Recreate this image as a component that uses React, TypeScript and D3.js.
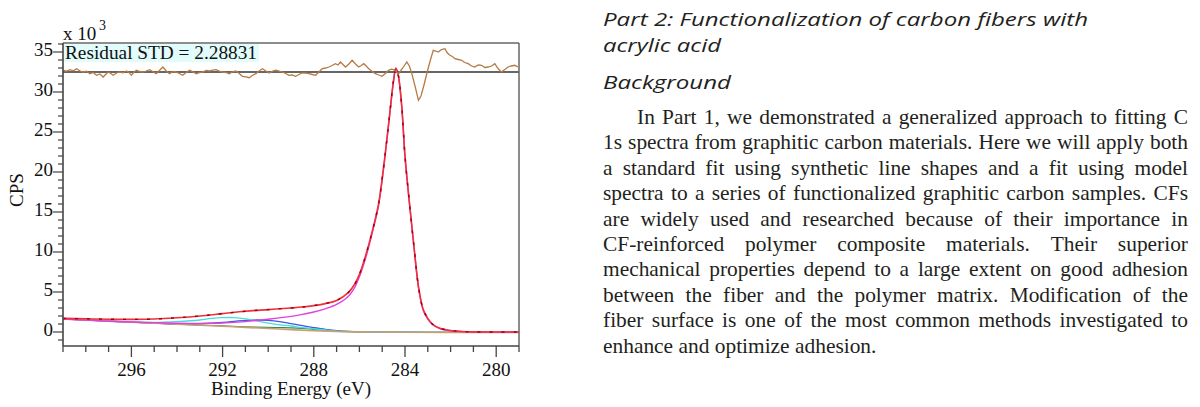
import React, { useMemo } from 'react';
import * as d3 from 'd3';

// ---------- data (binding energy in eV, intensity in CPS x 10^3) ----------
const xMajorTicks = [296, 292, 288, 284, 280];
const yMajorTicks = [0, 5, 10, 15, 20, 25, 30, 35];

const envelope: [number, number][] = [
  [299, 1.7], [298, 1.65], [297, 1.6], [296, 1.58], [295, 1.62], [294, 1.78], [293, 2.0], [292, 2.3],
  [291, 2.6], [290, 2.8], [289, 3.0], [288.5, 3.12], [288, 3.3], [287.5, 3.55], [287, 3.95], [286.5, 4.9],
  [286.2, 6.0], [286, 7.2], [285.7, 9.8], [285.4, 13.0], [285.16, 16.0], [284.9, 21.5], [284.7, 26.5],
  [284.5, 31.5], [284.4, 33.0], [284.3, 32.2], [284.15, 28.5], [284.0, 22.0], [283.8, 16.0], [283.6, 10.5],
  [283.4, 5.5], [283.2, 2.8], [283.0, 1.7], [282.8, 1.0], [282.5, 0.5], [282, 0.18], [281.5, 0.07],
  [281, 0.02], [280, 0], [279, 0],
];

const mainPeak: [number, number][] = [
  [299, 1.62], [298, 1.48], [297, 1.35], [296, 1.25], [295, 1.17], [294, 1.1], [293, 1.07], [292, 1.12],
  [291, 1.3], [290, 1.6], [289, 1.95], [288.5, 2.2], [288, 2.5], [287.5, 2.9], [287, 3.45], [286.5, 4.4],
  [286.2, 5.6], [286, 6.9], [285.7, 9.5], [285.4, 12.8], [285.16, 15.8], [284.9, 21.4], [284.7, 26.4],
  [284.5, 31.4], [284.4, 32.9], [284.3, 32.1], [284.15, 28.4], [284.0, 21.9], [283.8, 15.9], [283.6, 10.4],
  [283.4, 5.4], [283.2, 2.7], [283.0, 1.6], [282.8, 0.95], [282.5, 0.47], [282, 0.15], [281.5, 0.05],
  [281, 0.0], [280, -0.02], [279, -0.03],
];

const cyanPeak: [number, number][] = [
  [299, 1.65], [298, 1.5], [297, 1.37], [296, 1.27], [295, 1.2], [294, 1.3], [293, 1.5], [292.5, 1.7],
  [292, 1.8], [291.5, 1.8], [291, 1.65], [290.5, 1.4], [290, 1.1], [289.5, 0.9], [289, 0.75], [288.5, 0.55],
  [288, 0.4], [287.5, 0.25], [287, 0.12], [286, 0.03], [285, 0], [282, -0.05], [279, -0.05],
];

const bluePeak: [number, number][] = [
  [299, 1.65], [298, 1.5], [297, 1.36], [296, 1.24], [295, 1.12], [294, 1.0], [293, 1.05], [292, 1.2],
  [291, 1.45], [290.5, 1.5], [290, 1.45], [289.5, 1.3], [289, 1.05], [288.5, 0.8], [288, 0.55],
  [287.5, 0.33], [287, 0.18], [286.5, 0.07], [286, 0.02], [285, 0], [282, -0.05], [279, -0.05],
];

const greenPeak: [number, number][] = [
  [299, 1.65], [298, 1.5], [297, 1.36], [296, 1.24], [295, 1.1], [294, 0.97], [293, 0.86], [292, 0.76],
  [291, 0.65], [290, 0.58], [289.5, 0.55], [289, 0.52], [288.5, 0.45], [288, 0.32], [287.5, 0.2],
  [287, 0.1], [286, 0.02], [285, 0], [282, -0.05], [279, -0.05],
];

const background: [number, number][] = [
  [299, 1.65], [298, 1.5], [297, 1.36], [296, 1.23], [295, 1.1], [294, 0.97], [293, 0.85], [292, 0.72],
  [291, 0.58], [290, 0.45], [289, 0.3], [288, 0.16], [287, 0.07], [286, 0.02], [285, 0], [284, -0.03],
  [282, -0.05], [279, -0.05],
];

const residual: [number, number][] = [
  [298.99, 1.7], [298.84, 0.8], [298.69, 2.3], [298.55, 1.2], [298.4, 3.3], [298.25, 1.0], [298.11, 0],
  [297.96, 0.8], [297.82, -1.7], [297.68, -0.5], [297.53, -3.3], [297.38, -2.0], [297.24, -5], [297.13, -2.5],
  [297.02, 0], [296.9, -1.5], [296.8, -3.3], [296.65, -1.0], [296.51, 0], [296.36, -0.8], [296.22, 1],
  [296.1, -0.5], [296.0, -3.3], [295.9, -0.5], [295.78, 1.7], [295.63, 0.5], [295.49, 0], [295.35, 1.0],
  [295.2, 2.3], [295.05, 0.2], [294.91, -1.7], [294.77, 1.5], [294.62, 5], [294.47, 1.0], [294.33, -1.7],
  [294.18, 0.5], [294.04, 0], [293.9, -1.5], [293.75, -3.3], [293.6, -0.5], [293.45, 1.7], [293.3, 0.2],
  [293.16, -1.7], [293.02, -0.6], [292.87, 0], [292.72, 1.5], [292.58, 1], [292.43, 1.8], [292.29, 2.3],
  [292.15, 0.8], [292.0, 0], [291.85, -0.5], [291.71, -1.7], [291.56, 0.2], [291.42, 1], [291.27, -1.5],
  [291.13, -4.3], [290.98, -4.8], [290.83, -5.7], [290.7, -3.5], [290.54, -1.7], [290.4, 1.0], [290.25, 3.3],
  [290.1, 1.0], [289.96, -1], [289.8, 0.8], [289.67, 1.7], [289.52, 0.8], [289.38, 0], [289.23, -1.5],
  [289.09, -3.3], [288.95, -3.0], [288.8, -4.3], [288.65, -2.5], [288.51, -1], [288.36, -1.2], [288.21, -1.7],
  [288.07, -2.5], [287.92, -3.3], [287.78, 0], [287.63, 3.3], [287.48, 4.0], [287.34, 5], [287.2, 6.5],
  [287.05, 8.3], [286.94, 7.0], [286.83, 10], [286.72, 7.5], [286.61, 5], [286.46, 8.0], [286.32, 11.7],
  [286.17, 8.0], [286.03, 5], [285.92, 6.5], [285.81, 8.3], [285.7, 6.0], [285.59, 3.3], [285.45, 0.8],
  [285.3, -1.7], [285.15, -3.0], [285.01, -4.3], [284.86, -1.5], [284.72, 1.7], [284.6, 2.8], [284.5, 2.3],
  [284.39, 0.5], [284.28, -1.7], [284.1, 4.0], [283.92, 10], [283.81, 6.0], [283.7, -1.7], [283.55, -15],
  [283.41, -28.3], [283.3, -24.0], [283.19, -15], [283.08, -5.0], [282.97, 5], [282.86, 14.0],
  [282.76, 21.7], [282.65, 21.0], [282.54, 20], [282.4, 22.5], [282.25, 23.3], [282.14, 19.0],
  [282.03, 16.7], [281.92, 15.5], [281.81, 13.3], [281.66, 12.5], [281.52, 11.7], [281.38, 9.5],
  [281.23, 8.3], [281.08, 6.0], [280.94, 5], [280.79, 7.0], [280.64, 6.7], [280.5, 4.5], [280.35, 5],
  [280.2, 6.0], [280.06, 8.3], [279.92, 3.5], [279.77, 0], [279.62, 2.5], [279.48, 5], [279.33, 6.0],
  [279.19, 6.7], [279.04, 5],
];

const residualStd = 'Residual STD = 2.28831';

const headingLines = ['Part 2: Functionalization of carbon fibers with', 'acrylic acid'];
const subHeading = 'Background';
const bodyLines = [
  'In Part 1, we demonstrated a generalized approach to fitting C',
  '1s spectra from graphitic carbon materials. Here we will apply both',
  'a standard fit using synthetic line shapes and a fit using model',
  'spectra to a series of functionalized graphitic carbon samples. CFs',
  'are widely used and researched because of their importance in',
  'CF-reinforced polymer composite materials. Their superior',
  'mechanical properties depend to a large extent on good adhesion',
  'between the fiber and the polymer matrix. Modification of the',
  'fiber surface is one of the most common methods investigated to',
  'enhance and optimize adhesion.',
];

// ---------- layout ----------
const W = 1200;
const H = 407;
const PL = 63, PR = 519, PT = 43, PB = 346;
const SERIF = '"Liberation Serif", "Times New Roman", serif';
const TEXT_X0 = 603, TEXT_X1 = 1188;

function justify(words: string[], x0: number, x1: number, ctx: CanvasRenderingContext2D | null, last: boolean) {
  const widths = words.map((w) => (ctx ? ctx.measureText(w).width : w.length * 9));
  const spaceW = ctx ? ctx.measureText(' ').width : 5;
  const total = widths.reduce((a, b) => a + b, 0);
  const gap = last || words.length < 2 ? spaceW : (x1 - x0 - total) / (words.length - 1);
  const xs: number[] = [];
  let x = x0;
  widths.forEach((w) => {
    xs.push(x);
    x += w + gap;
  });
  return xs;
}

export default function App() {
  const x = d3.scaleLinear().domain([299, 279]).range([PL, PR]);
  const y = d3.scaleLinear().domain([-1.75, 36.125]).range([PB, PT]);
  const r = d3.scaleLinear().domain([-30, 30]).range([102, 42]);

  const line = d3
    .line<[number, number]>()
    .x((d) => x(d[0]))
    .y((d) => y(d[1]))
    .curve(d3.curveCatmullRom.alpha(0.5));
  const resLine = d3
    .line<[number, number]>()
    .x((d) => x(d[0]))
    .y((d) => r(d[1]));

  const xMinor = d3.range(279, 300, 1);
  const yMinor = d3.range(-1, 37, 1);

  const { ctx, bodySize } = useMemo(() => {
    try {
      const c = document.createElement('canvas').getContext('2d');
      if (!c) return { ctx: null, bodySize: 20.5 };
      c.font = `20px ${SERIF}`;
      const nat = c.measureText(bodyLines[1]).width;
      const size = Math.max(18, Math.min(23, (20 * (TEXT_X1 - TEXT_X0 - 6)) / nat));
      c.font = `${size}px ${SERIF}`;
      return { ctx: c, bodySize: size };
    } catch (e) {
      return { ctx: null, bodySize: 20.5 };
    }
  }, []);

  const bodyY0 = 124;
  const bodyStep = 25.4;

  return (
    <svg width={W} height={H} style={{ position: 'absolute', left: 0, top: 0, background: '#fff' }}>
      <defs>
        <clipPath id="plotClip">
          <rect x={PL} y={PT} width={PR - PL} height={PB - PT} />
        </clipPath>
      </defs>

      {/* residual STD label box */}
      <rect x={PL + 1} y={PT + 1} width={195} height={18} fill="#e2fbfb" />
      <text x={PL + 2} y={PT + 16} fontFamily={SERIF} fontSize={19} fill="#111" textLength={192} lengthAdjust="spacingAndGlyphs">
        {residualStd}
      </text>

      {/* curves */}
      <g clipPath="url(#plotClip)" fill="none">
        <path d={line(greenPeak) || ''} stroke="#2e8b57" strokeWidth={1.2} />
        <path d={line(bluePeak) || ''} stroke="#4455dd" strokeWidth={1.3} />
        <path d={line(cyanPeak) || ''} stroke="#44dddd" strokeWidth={1.3} />
        <path d={line(background) || ''} stroke="#c8a070" strokeWidth={1.6} />
        <path d={line(mainPeak) || ''} stroke="#e040e0" strokeWidth={1.4} />
        <path d={line(envelope) || ''} stroke="#f0303a" strokeWidth={1.6} />
        <path d={line(envelope) || ''} stroke="#9a0010" strokeWidth={1.4} strokeDasharray="3 9" />
        {/* residual */}
        <line x1={PL} x2={PR} y1={r(0)} y2={r(0)} stroke="#333" strokeWidth={1.3} />
        <path d={resLine(residual) || ''} stroke="#b57a45" strokeWidth={1.3} />
      </g>

      {/* frame */}
      <line x1={PL} x2={PR} y1={PT} y2={PT} stroke="#666" strokeWidth={1.5} />
      <line x1={PR} x2={PR} y1={PT} y2={PB} stroke="#666" strokeWidth={1.5} />
      <line x1={PL} x2={PL} y1={PT} y2={PB} stroke="#444" strokeWidth={1.6} />
      <line x1={PL} x2={PR} y1={PB} y2={PB} stroke="#444" strokeWidth={1.6} />

      {/* x ticks */}
      {xMinor.map((t) => (
        <line key={'xm' + t} x1={x(t)} x2={x(t)} y1={PB} y2={PB + (xMajorTicks.includes(t) ? 11 : 6)} stroke="#444" strokeWidth={1.3} />
      ))}
      {xMajorTicks.map((t) => (
        <text key={'xl' + t} x={x(t)} y={376} textAnchor="middle" fontFamily={SERIF} fontSize={19} fill="#111">
          {t}
        </text>
      ))}
      <text x={291} y={395} textAnchor="middle" fontFamily={SERIF} fontSize={19} fill="#111">
        Binding Energy (eV)
      </text>

      {/* y ticks */}
      {yMinor.map((t) => (
        <line key={'ym' + t} x1={PL - (yMajorTicks.includes(t) ? 10 : 5)} x2={PL} y1={y(t)} y2={y(t)} stroke="#444" strokeWidth={1.2} />
      ))}
      {yMajorTicks.map((t) => (
        <text key={'yl' + t} x={53} y={y(t) + 4} textAnchor="end" fontFamily={SERIF} fontSize={19} fill="#111">
          {t}
        </text>
      ))}
      <text x={63} y={40} fontFamily={SERIF} fontSize={19} fill="#111">
        x 10
      </text>
      <text x={99} y={30} fontFamily={SERIF} fontSize={14} fill="#111">
        3
      </text>
      <text transform="translate(23,190) rotate(-90)" textAnchor="middle" fontFamily={SERIF} fontSize={19} fill="#111">
        CPS
      </text>

      {/* right text panel */}
      <g fontFamily='"Open Sans", "Noto Sans", sans-serif' fontStyle="italic" fontSize={18.5} fill="#231f20">
        <text x={603} y={26} textLength={485} lengthAdjust="spacingAndGlyphs">
          {headingLines[0]}
        </text>
        <text x={603} y={52} textLength={118} lengthAdjust="spacingAndGlyphs">
          {headingLines[1]}
        </text>
        <text x={603} y={89} textLength={128} lengthAdjust="spacingAndGlyphs">
          {subHeading}
        </text>
      </g>
      <g fontFamily={SERIF} fontSize={bodySize} fill="#231f20">
        {bodyLines.map((ln, i) => {
          const words = ln.split(' ');
          const x0 = i === 0 ? 637 : TEXT_X0;
          const xs = justify(words, x0, TEXT_X1, ctx, i === bodyLines.length - 1);
          return (
            <g key={'bl' + i}>
              {words.map((w, j) => (
                <text key={j} x={xs[j]} y={bodyY0 + i * bodyStep}>
                  {w}
                </text>
              ))}
            </g>
          );
        })}
      </g>
    </svg>
  );
}
